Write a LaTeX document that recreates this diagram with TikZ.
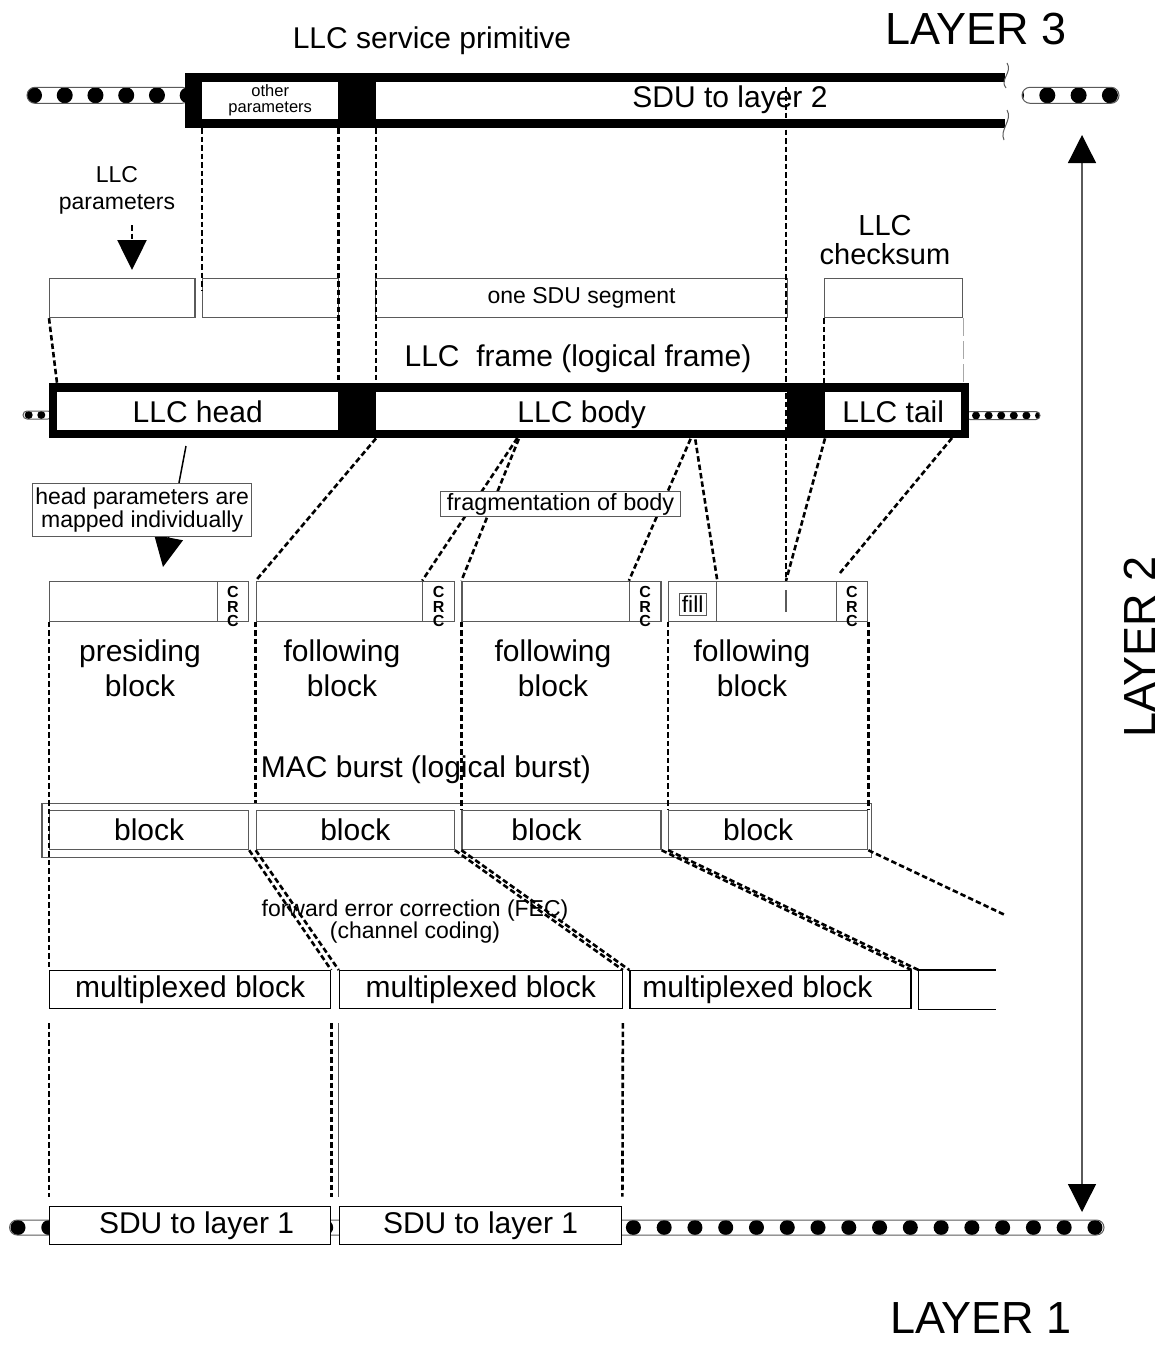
\documentclass[tikz,border=0pt]{standalone}
\usepackage{fontspec}
\setmainfont{Liberation Sans}
\usetikzlibrary{arrows.meta,calc,positioning}
\definecolor{Ink}{HTML}{000000}
\definecolor{Rule}{HTML}{5A5A5A}
\definecolor{Faint}{HTML}{A8A8A8}
\tikzset{
  textL/.style={font=\fontsize{45}{50}\selectfont},
  textM/.style={font=\fontsize{30}{35}\selectfont},
  textS/.style={font=\fontsize{23}{23}\selectfont},
  textXS/.style={font=\fontsize{16.5}{16}\selectfont},
  bar/.style={fill=Ink, inner sep=0pt, anchor=north west},
  slot/.style={fill=white, inner sep=0pt, anchor=north west, textM,
    text height=22pt, text depth=0pt},
  cell/.style={draw=Rule, line width=1.2pt, fill=white, inner sep=0pt,
    minimum height=39pt, anchor=north west},
  crc/.style={draw=Rule, line width=1.2pt, inner sep=0pt,
    minimum width=31.5pt, minimum height=40pt, anchor=north east},
  crcmark/.style={anchor=north, inner sep=0pt, align=center,
    font=\fontsize{16}{14.5}\selectfont\bfseries},
  note/.style={draw=Rule, line width=1.2pt, fill=white, inner sep=0pt,
    align=center, anchor=north west, textS},
  mapping/.style={draw=Ink, line width=2.6pt, dash pattern=on 5.5pt off 3pt},
  faintmap/.style={draw=Faint, line width=1pt, dash pattern=on 18pt off 5pt},
  pointer/.style={-{Triangle[width=29pt,length=30pt]}, line width=1.5pt, draw=Ink},
  span/.style={{Triangle[width=28pt,length=28pt,color=Ink]}-{Triangle[width=28pt,length=28pt,color=Ink]},
    line width=1.3pt, draw=Rule},
  tube/.style={draw=Rule, line width=1pt}
}
\newcommand{\beads}[7]{%
  \begin{scope}
    \clip[rounded corners=#4pt] (#1,#3-#4) rectangle (#2,#3+#4);
    \foreach \bi in {0,...,#7}
      \fill[Ink] ({#5+\bi*#6},#3) circle [radius=#4pt];
  \end{scope}
  \draw[tube, rounded corners=#4pt] (#1,#3-#4) rectangle (#2,#3+#4);
}

\begin{document}
\begin{tikzpicture}[x=1pt,y=-1pt]
  \useasboundingbox (0,0) rectangle (1167,1346);
  \beads{27}{190}{95.3}{8}{34}{30.74}{5}
  \beads{1022}{1119}{95.3}{8}{1016}{31.3}{3}
  \beads{23}{52}{415}{4}{28.7}{12.6}{2}
  \beads{966}{1040}{415.5}{4}{976}{12.6}{5}
  \beads{9.6}{1104}{1227.5}{7.5}{18}{30.77}{35}

  \node[textL] (layer3) at (976,29) {LAYER 3};
  \node[textL, rotate=90] (layer2) at (1140,647) {LAYER 2};
  \node[textL] (layer1) at (981,1318) {LAYER 1};
  \coordinate (l3tip) at (1082,135);
  \coordinate (l1tip) at (1082,1212);
  \draw[span] (l3tip) -- (l1tip);

  \node[textM] (primtitle) at (432,40.5) {LLC service primitive};
  \node[bar, minimum width=820pt, minimum height=55pt] (prim) at (185,72.7) {};
  \node[slot, textXS, align=center, text height=, text depth=, minimum width=136pt, minimum height=37.3pt] (otherpar) at (202,81.7) {other\\parameters};
  \node[slot, minimum width=629pt, minimum height=37.3pt] (sdu2) at (376,81.7) {};
  \node[textM] (sdu2txt) at (730,100) {SDU to layer 2};
  \draw[Rule, line width=1pt] (1007,63) .. controls (1013,72) and (999,80) .. (1006,88);
  \draw[Rule, line width=1pt] (1007,110) .. controls (1013,120) and (999,130) .. (1004,140);

  \node[align=center, font=\fontsize{23}{27}\selectfont] (llcpartxt) at (117,190.5) {LLC\\parameters};
  \node[align=center, font=\fontsize{29}{29}\selectfont] (cksumtxt) at (885,240) {LLC\\checksum};
  \node[cell, minimum width=145.4pt] (llcpar) at (49,278) {};
  \node[cell, minimum width=136pt] (othercopy) at (202,278) {};
  \node[cell, minimum width=412pt, textS] (segment) at (375,278) {one SDU segment};
  \node[cell, minimum width=138pt] (cksum) at (824,278) {};
  \coordinate (partop) at (132,225);
  \coordinate (partip) at (132,270);
  \draw[mapping, -{Triangle[width=29pt,length=30pt]}] (partop) -- (partip);

  \node[textM] (frametitle) at (578,358.5) {LLC~~frame (logical frame)};
  \node[bar, minimum width=920pt, minimum height=55pt] (frame) at (49,383) {};
  \node[slot, minimum width=281pt, minimum height=38pt] (head) at (57,392) {LLC head};
  \node[slot, minimum width=411pt, minimum height=38pt] (body) at (376,392) {LLC body};
  \node[slot, minimum width=136pt, minimum height=38pt] (tail) at (825,392) {LLC tail};

  \node[cell, minimum width=199pt, minimum height=40pt] (c1) at (49,580.7) {};
  \node[cell, minimum width=198pt, minimum height=40pt, right=6.5pt of c1] (c2) {};
  \node[cell, minimum width=199pt, minimum height=40pt, right=6.5pt of c2] (c3) {};
  \node[cell, minimum width=199pt, minimum height=40pt, right=6.5pt of c3] (c4) {};
  \node[crc] (crc1) at (c1.north east) {};
  \node[crc] (crc2) at (c2.north east) {};
  \node[crc] (crc3) at (c3.north east) {};
  \node[crc] (crc4) at (c4.north east) {};
  \node[crcmark] (crctxt1) at ([yshift=-5.5pt]crc1.north) {C\\R\\C};
  \node[crcmark] (crctxt2) at ([yshift=-5.5pt]crc2.north) {C\\R\\C};
  \node[crcmark] (crctxt3) at ([yshift=-5.5pt]crc3.north) {C\\R\\C};
  \node[crcmark] (crctxt4) at ([yshift=-5.5pt]crc4.north) {C\\R\\C};
  \node[cell, minimum width=48pt, minimum height=40pt] (fillcell) at (c4.north west) {};
  \node[draw=Rule, line width=1pt, inner sep=0pt, minimum width=27pt, minimum height=22pt, textS] (fillmark) at ([yshift=-3pt]fillcell.center) {fill};
  \draw[Rule, line width=1.2pt] (786,590) -- (786,612);

  \node[textM, align=center] (cap1) at (140,668.5) {presiding\\block};
  \node[textM, align=center] (cap2) at (342,668.5) {following\\block};
  \node[textM, align=center] (cap3) at (553,668.5) {following\\block};
  \node[textM, align=center] (cap4) at (752,668.5) {following\\block};

  \node[textM] (bursttitle) at (426,770) {MAC burst (logical burst)};
  \node[draw=Rule, line width=1.2pt, inner sep=0pt, anchor=north west, minimum width=829.7pt, minimum height=54pt] (burst) at (41.3,802.7) {};
  \node[cell, minimum width=199pt, textM] (b1) at (49,810) {block};
  \node[cell, minimum width=198pt, textM, right=6.5pt of b1] (b2) {block};
  \node[cell, minimum width=199pt, textM, right=6.5pt of b2] (b3) {block\hspace*{30pt}};
  \node[cell, minimum width=199pt, textM, right=6.5pt of b3] (b4) {block\hspace*{20pt}};

  \node[textS, align=center, font=\fontsize{23}{22}\selectfont] (fec) at (415,922) {forward error correction (FEC)\\(channel coding)};

  \node[cell, draw=Ink, minimum width=281pt, minimum height=38pt, textM] (mux1) at (49,970) {multiplexed block};
  \node[cell, draw=Ink, minimum width=283pt, minimum height=38pt, textM, right=7.5pt of mux1] (mux2) {multiplexed block};
  \node[cell, draw=Ink, minimum width=281pt, minimum height=38pt, textM, right=6.4pt of mux2] (mux3) {multiplexed block\hspace*{26pt}};
  \node[cell, draw=none, minimum width=76pt, minimum height=38pt, right=7pt of mux3] (mux4) {};
  \draw[Ink, line width=1.2pt] (mux4.north east) -- (mux4.north west) -- (mux4.south west) -- (mux4.south east);

  \node[cell, draw=Ink, minimum width=281pt, minimum height=38.3pt, textM] (sdu1a) at (49,1205.7) {\hspace*{13pt}SDU to layer 1};
  \node[cell, draw=Ink, minimum width=282.5pt, minimum height=38.3pt, textM, right=7.5pt of sdu1a] (sdu1b) {SDU to layer 1};

  \coordinate (cut) at (786,87);
  \draw[mapping] (prim.south -| otherpar.west) -- ([yshift=-12pt]othercopy.north west);
  \draw[mapping] (prim.south -| otherpar.east) -- (frame.north -| otherpar.east);
  \draw[mapping] (prim.south -| sdu2.west) -- (frame.north -| sdu2.west);
  \draw[mapping] (cut) -- (cut |- c4.north);
  \draw[mapping] (cksum.south west) -- (frame.north -| cksum.west);
  \draw[faintmap] (cksum.south east) -- (frame.north -| cksum.east);
  \draw[mapping] (llcpar.south west) -- (frame.north -| head.west);

  \coordinate (fragA) at (522,431);
  \coordinate (fragB) at (694,431);
  \coordinate (tailend) at (952,438);
  \coordinate (crcend) at (840,573);
  \draw[mapping] (frame.south -| body.west) -- (c2.north west);
  \draw[mapping] (fragA) -- (crc2.north west);
  \draw[mapping] (fragA) -- (c3.north west);
  \draw[mapping] (fragB) -- (crc3.north west);
  \draw[mapping] (fragB) -- (fillcell.north east);
  \draw[mapping] (frame.south -| tail.west) -- (cut |- c4.north);
  \draw[mapping] (tailend) -- (crcend);

  \draw[mapping] (c1.south west) -- (mux1.north west);
  \draw[mapping] (c2.south west) -- (c2.south west |- burst.north);
  \draw[mapping] (c3.south west) -- (b3.north west);
  \draw[mapping] (c4.south west) -- (b4.north west);
  \draw[mapping] (c4.south east) -- (b4.north east);

  \coordinate (fecend) at (1005,915);
  \draw[mapping] (b1.south east) -- (mux1.north east);
  \draw[mapping] (b2.south west) -- (mux2.north west);
  \draw[mapping] (b2.south east) -- (mux2.north east);
  \draw[mapping] (b3.south west) -- (mux3.north west);
  \draw[mapping] (b3.south east) -- (mux3.north east);
  \draw[mapping] (b4.south west) -- (mux4.north west);
  \draw[mapping] (b4.south east) -- (fecend);

  \draw[mapping, shorten <=14pt, shorten >=9pt] (mux1.south west) -- (sdu1a.north west);
  \draw[mapping, shorten <=14pt, shorten >=9pt] (mux1.south east) -- (sdu1a.north east);
  \draw[Rule, line width=1pt, shorten <=14pt, shorten >=9pt] (mux2.south west) -- (sdu1b.north west);
  \draw[mapping, shorten <=14pt, shorten >=9pt] (mux2.south east) -- (sdu1b.north east);

  \coordinate (headfoot) at (186,446);
  \coordinate (headtip) at (163,567);
  \draw[pointer] (headfoot) -- (headtip);
  \node[note, minimum width=219pt, minimum height=53pt, font=\fontsize{23}{23}\selectfont] (hpbox) at (32,483) {head parameters are\\mapped individually};
  \node[note, minimum width=240pt, minimum height=25pt, font=\fontsize{23.5}{24}\selectfont] (fragbox) at (440,491) {fragmentation of body};
\end{tikzpicture}
\end{document}
